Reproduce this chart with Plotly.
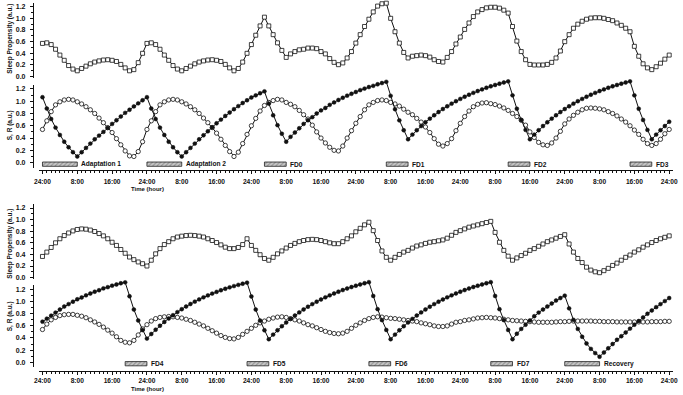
import plotly.graph_objects as go

hours = list(range(145))

# ---------------- top figure (adaptation + FD0-FD3) ----------------
top_sp = [0.57, 0.58, 0.55, 0.47, 0.37, 0.28, 0.19, 0.13, 0.10, 0.14, 0.18, 0.22, 0.25, 0.27, 0.285, 0.29, 0.28, 0.26, 0.21, 0.15, 0.10, 0.12, 0.24, 0.40, 0.57,
          0.58, 0.55, 0.47, 0.37, 0.28, 0.19, 0.13, 0.10, 0.14, 0.18, 0.22, 0.25, 0.27, 0.285, 0.29, 0.28, 0.26, 0.21, 0.15, 0.10, 0.14, 0.25, 0.40, 0.55,
          0.71, 0.87, 1.02, 0.87, 0.72, 0.58, 0.45, 0.33, 0.39, 0.43, 0.46, 0.47, 0.49, 0.49, 0.48, 0.43, 0.39, 0.31, 0.245, 0.205, 0.235, 0.32, 0.43, 0.575,
          0.72, 0.86, 0.985, 1.11, 1.21, 1.25, 1.26, 1.00, 0.77, 0.575, 0.415, 0.32, 0.35, 0.36, 0.37, 0.36, 0.335, 0.29, 0.26, 0.25, 0.33, 0.43, 0.56, 0.68,
          0.81, 0.92, 1.03, 1.11, 1.15, 1.18, 1.19, 1.19, 1.175, 1.14, 1.09, 0.86, 0.61, 0.43, 0.29, 0.21, 0.20, 0.20, 0.20, 0.21, 0.245, 0.32, 0.44, 0.60,
          0.72, 0.83, 0.90, 0.95, 0.985, 1.005, 1.01, 1.01, 1.00, 0.98, 0.96, 0.92, 0.88, 0.83, 0.77, 0.52, 0.35, 0.22, 0.15, 0.12, 0.17, 0.23, 0.30, 0.37]

top_s = [1.065, 0.88, 0.71, 0.57, 0.45, 0.34, 0.25, 0.17, 0.10,
         0.17, 0.24, 0.31, 0.38, 0.44, 0.50, 0.565, 0.63, 0.69, 0.75, 0.81, 0.86, 0.915, 0.965, 1.015, 1.065,
         0.88, 0.71, 0.57, 0.45, 0.34, 0.25, 0.17, 0.10,
         0.17, 0.24, 0.31, 0.38, 0.445, 0.51, 0.575, 0.64, 0.70, 0.76, 0.815, 0.87, 0.92, 0.97, 1.015, 1.06, 1.095, 1.13, 1.16,
         0.96, 0.77, 0.61, 0.47, 0.34,
         0.42, 0.49, 0.56, 0.63, 0.69, 0.74, 0.80, 0.85, 0.89, 0.94, 0.98, 1.02, 1.055, 1.09, 1.12, 1.15, 1.18, 1.205, 1.23, 1.25, 1.275, 1.295, 1.315,
         1.087, 0.87, 0.688, 0.528, 0.38,
         0.456, 0.528, 0.595, 0.657, 0.716, 0.771, 0.823, 0.872, 0.917, 0.96, 1.0, 1.037, 1.072, 1.105, 1.136, 1.165, 1.192, 1.218, 1.242, 1.264, 1.285, 1.305, 1.323,
         1.095, 0.877, 0.695, 0.533, 0.38,
         0.456, 0.528, 0.595, 0.657, 0.716, 0.771, 0.823, 0.872, 0.917, 0.96, 1.0, 1.037, 1.072, 1.105, 1.136, 1.165, 1.192, 1.218, 1.242, 1.264, 1.285, 1.305, 1.323,
         1.095, 0.877, 0.695, 0.533, 0.38,
         0.456, 0.528, 0.595, 0.665]

top_r = [0.54, 0.68, 0.83, 0.94, 0.99, 1.02, 1.03, 1.02, 0.99, 0.955, 0.91, 0.86, 0.80, 0.725, 0.65, 0.57, 0.49, 0.39, 0.29, 0.19, 0.11, 0.10, 0.18, 0.34, 0.54,
         0.68, 0.83, 0.94, 0.99, 1.02, 1.03, 1.02, 0.99, 0.955, 0.91, 0.86, 0.80, 0.725, 0.65, 0.57, 0.48, 0.38, 0.28, 0.18, 0.10, 0.17, 0.31, 0.46, 0.60,
         0.72, 0.84, 0.93, 0.98, 1.01, 1.03, 1.02, 0.98, 0.95, 0.91, 0.85, 0.78, 0.71, 0.61, 0.50, 0.40, 0.32, 0.25, 0.20, 0.19, 0.27, 0.40, 0.52, 0.64,
         0.75, 0.86, 0.94, 0.98, 1.01, 1.02, 1.01, 0.98, 0.955, 0.92, 0.87, 0.82, 0.78, 0.72, 0.66, 0.58, 0.49, 0.39, 0.30, 0.27, 0.31, 0.39, 0.52, 0.64,
         0.75, 0.84, 0.91, 0.95, 0.97, 0.975, 0.96, 0.945, 0.92, 0.89, 0.85, 0.80, 0.75, 0.69, 0.61, 0.50, 0.41, 0.33, 0.29, 0.28, 0.32, 0.40, 0.51, 0.63,
         0.71, 0.77, 0.82, 0.86, 0.885, 0.89, 0.885, 0.875, 0.86, 0.83, 0.80, 0.76, 0.71, 0.66, 0.60, 0.53, 0.46, 0.38, 0.31, 0.28, 0.31, 0.38, 0.47, 0.54]

top_sleep_start = [0, 24, 51, 79, 107, 135]
top_sleep_end = [8, 32, 56, 84, 112, 140]
top_sleep_label = ["Adaptation 1", "Adaptation 2", "FD0", "FD1", "FD2", "FD3"]

# ---------------- bottom figure (FD4-FD7 + recovery) ----------------
bot_sp = [0.365, 0.44, 0.52, 0.60, 0.67, 0.725, 0.77, 0.805, 0.83, 0.84, 0.835, 0.82, 0.795, 0.76, 0.72, 0.67, 0.61, 0.555, 0.485, 0.42, 0.355, 0.31, 0.27, 0.24, 0.20,
          0.30, 0.41, 0.50, 0.57, 0.62, 0.67, 0.70, 0.715, 0.725, 0.73, 0.725, 0.715, 0.70, 0.67, 0.64, 0.605, 0.565, 0.525, 0.50, 0.50, 0.52, 0.57, 0.67, 0.555,
          0.47, 0.395, 0.33, 0.30, 0.35, 0.41, 0.46, 0.51, 0.555, 0.59, 0.62, 0.64, 0.655, 0.66, 0.655, 0.64, 0.62, 0.60, 0.585, 0.585, 0.62, 0.67, 0.72, 0.79,
          0.85, 0.91, 0.955, 0.81, 0.64, 0.46, 0.35, 0.30, 0.35, 0.40, 0.44, 0.47, 0.51, 0.545, 0.565, 0.59, 0.61, 0.62, 0.635, 0.65, 0.68, 0.73, 0.78, 0.81,
          0.84, 0.87, 0.89, 0.91, 0.93, 0.95, 0.97, 0.78, 0.61, 0.47, 0.37, 0.30, 0.34, 0.38, 0.42, 0.47, 0.50, 0.54, 0.58, 0.62, 0.65, 0.68, 0.71, 0.74,
          0.58, 0.44, 0.33, 0.26, 0.18, 0.13, 0.10, 0.085, 0.12, 0.16, 0.21, 0.25, 0.30, 0.35, 0.39, 0.44, 0.48, 0.525, 0.565, 0.605, 0.64, 0.67, 0.695, 0.72]

bot_s = [0.67, 0.72, 0.77, 0.82, 0.87, 0.92, 0.96, 1.00, 1.04, 1.07, 1.105, 1.135, 1.165, 1.19, 1.22, 1.24, 1.265, 1.285, 1.305, 1.32,
         1.09, 0.87, 0.69, 0.53, 0.39,
         0.466, 0.537, 0.603, 0.665, 0.723, 0.777, 0.828, 0.876, 0.92, 0.962, 1.001, 1.038, 1.072, 1.104, 1.134, 1.162, 1.189, 1.213, 1.237, 1.258, 1.278, 1.297, 1.315,
         1.087, 0.87, 0.688, 0.528, 0.38,
         0.456, 0.528, 0.595, 0.657, 0.716, 0.771, 0.823, 0.872, 0.917, 0.96, 1.0, 1.037, 1.072, 1.105, 1.136, 1.165, 1.192, 1.218, 1.242, 1.264, 1.285, 1.305, 1.323,
         1.095, 0.877, 0.695, 0.533, 0.38,
         0.456, 0.528, 0.595, 0.657, 0.716, 0.771, 0.823, 0.872, 0.917, 0.96, 1.0, 1.037, 1.072, 1.105, 1.136, 1.165, 1.192, 1.218, 1.242, 1.264, 1.285, 1.305, 1.323,
         1.095, 0.877, 0.695, 0.533, 0.38,
         0.47, 0.55, 0.62, 0.69, 0.76, 0.82, 0.87, 0.92, 0.97, 1.02, 1.06, 1.10,
         0.89, 0.70, 0.55, 0.42, 0.31, 0.22, 0.15, 0.09,
         0.16, 0.23, 0.30, 0.37, 0.43, 0.49, 0.555, 0.62, 0.68, 0.74, 0.80, 0.855, 0.91, 0.96, 1.01, 1.06]

bot_r = [0.54, 0.63, 0.70, 0.74, 0.77, 0.785, 0.79, 0.79, 0.775, 0.76, 0.735, 0.70, 0.665, 0.625, 0.58, 0.53, 0.48, 0.42, 0.36, 0.33, 0.32, 0.36, 0.45, 0.55, 0.62,
         0.68, 0.72, 0.74, 0.75, 0.755, 0.75, 0.74, 0.73, 0.71, 0.69, 0.66, 0.63, 0.60, 0.56, 0.52, 0.48, 0.44, 0.41, 0.39, 0.385, 0.41, 0.46, 0.51, 0.56,
         0.61, 0.65, 0.68, 0.71, 0.73, 0.745, 0.75, 0.74, 0.72, 0.70, 0.68, 0.65, 0.62, 0.60, 0.57, 0.54, 0.51, 0.49, 0.475, 0.47, 0.48, 0.51, 0.56, 0.61,
         0.65, 0.69, 0.72, 0.74, 0.75, 0.745, 0.735, 0.725, 0.72, 0.71, 0.70, 0.69, 0.68, 0.67, 0.65, 0.635, 0.62, 0.60, 0.59, 0.59, 0.60, 0.63, 0.66, 0.67,
         0.69, 0.70, 0.715, 0.73, 0.735, 0.74, 0.735, 0.73, 0.72, 0.71, 0.70, 0.69, 0.685, 0.68, 0.675, 0.67, 0.665, 0.66, 0.66, 0.66, 0.66, 0.665, 0.67, 0.67,
         0.675, 0.68, 0.68, 0.68, 0.68, 0.68, 0.675, 0.675, 0.67, 0.67, 0.67, 0.665, 0.665, 0.665, 0.665, 0.665, 0.665, 0.665, 0.665, 0.67, 0.67, 0.67, 0.675, 0.675]

bot_sleep_start = [19, 47, 75, 103, 120]
bot_sleep_end = [24, 52, 80, 108, 128]
bot_sleep_label = ["FD4", "FD5", "FD6", "FD7", "Recovery"]

tick_hours = [0, 8, 16, 24, 32, 40, 48, 56, 64, 72, 80, 88, 96, 104, 112, 120, 128, 136, 144]
tick_text = ["24:00", "8:00", "16:00", "24:00", "8:00", "16:00", "24:00", "8:00", "16:00", "24:00",
             "8:00", "16:00", "24:00", "8:00", "16:00", "24:00", "8:00", "16:00", "24:00"]
y_ticks = [0.0, 0.2, 0.4, 0.6, 0.8, 1.0, 1.2]
y_text = ["0.0", "0.2", "0.4", "0.6", "0.8", "1.0", "1.2"]

for arr in (top_sp, top_s, top_r, bot_sp, bot_s, bot_r):
    assert len(arr) == len(hours), len(arr)

FONT = "Liberation Sans, Arial, sans-serif"
INK = "#111111"
W, H = 683, 395

fig = go.Figure()


def add_series(xa, ya_sp, ya_sr, ya_data, sp, s, r, starts, ends, labels):
    fig.add_trace(go.Bar(orientation="h", base=starts,
                         x=[e - st for st, e in zip(starts, ends)],
                         y=[-0.025] * len(starts), width=0.07,
                         xaxis=xa, yaxis=ya_sr, cliponaxis=False,
                         marker=dict(color="#c8c8c8", line=dict(color="#222222", width=0.8),
                                     pattern=dict(shape="/", fgcolor="#555555", size=3, solidity=0.35)),
                         showlegend=False, hoverinfo="skip"))
    fig.add_trace(go.Scatter(x=hours, y=sp, xaxis=xa, yaxis=ya_sp, mode="lines+markers",
                             line=dict(color=INK, width=1.0), cliponaxis=False,
                             marker=dict(symbol="square", size=4.0, color="white",
                                         line=dict(color=INK, width=0.8)),
                             showlegend=False, hoverinfo="skip"))
    fig.add_trace(go.Scatter(x=hours, y=r, xaxis=xa, yaxis=ya_data, mode="lines+markers",
                             line=dict(color=INK, width=1.0), cliponaxis=False,
                             marker=dict(symbol="circle", size=4.3, color="white",
                                         line=dict(color=INK, width=0.8)),
                             showlegend=False, hoverinfo="skip"))
    fig.add_trace(go.Scatter(x=hours, y=s, xaxis=xa, yaxis=ya_data, mode="lines+markers",
                             line=dict(color=INK, width=1.0), cliponaxis=False,
                             marker=dict(symbol="circle", size=3.9, color=INK,
                                         line=dict(color=INK, width=0.5)),
                             showlegend=False, hoverinfo="skip"))
    for e, lab in zip(ends, labels):
        fig.add_annotation(x=e, y=-0.025, xref=xa, yref=ya_sr, text="<b>" + lab + "</b>",
                           showarrow=False, xanchor="left", yanchor="middle", xshift=2,
                           font=dict(family=FONT, size=6.6, color=INK))


add_series("x", "y", "y2", "y5", top_sp, top_s, top_r, top_sleep_start, top_sleep_end, top_sleep_label)
add_series("x2", "y3", "y4", "y6", bot_sp, bot_s, bot_r, bot_sleep_start, bot_sleep_end, bot_sleep_label)

x_dom = [34.5 / W, 677.6 / W]
xrange = [-0.8, 144.8]


def xaxis_cfg(pos_px, standoff):
    return dict(domain=x_dom, range=xrange, anchor="free", position=1 - pos_px / H,
                showline=True, linecolor=INK, linewidth=1, showgrid=False, zeroline=False,
                tickmode="array", tickvals=tick_hours, ticktext=tick_text,
                ticks="outside", ticklen=3, tickwidth=0.8, tickcolor=INK,
                ticklabelstandoff=standoff,
                tickfont=dict(family=FONT, size=6.6, color=INK, weight="bold"),
                minor=dict(ticks="outside", ticklen=2, tickwidth=0.7, tickcolor=INK, dtick=1, tick0=0))


def yaxis_cfg(dom_px, rng):
    return dict(domain=[1 - dom_px[1] / H, 1 - dom_px[0] / H], range=rng, anchor="free",
                position=28.3 / W, showline=True, linecolor=INK, linewidth=1,
                showgrid=False, zeroline=False, tickmode="array", tickvals=y_ticks, ticktext=y_text,
                ticks="outside", ticklen=3, tickwidth=0.8, tickcolor=INK, ticklabelstandoff=3,
                tickfont=dict(family=FONT, size=7, color=INK, weight="bold"),
                minor=dict(ticks="outside", ticklen=2, tickwidth=0.7, tickcolor=INK, dtick=0.1, tick0=0))


def data_axis(dom_px, rng):
    # invisible axis with the same value-to-pixel scale, taller so curves may rise above 1.2
    return dict(domain=[1 - dom_px[1] / H, 1 - dom_px[0] / H], range=rng, anchor="free",
                position=28.3 / W, visible=False, showgrid=False, zeroline=False)


fig.update_layout(
    width=W, height=H, margin=dict(l=0, r=0, t=0, b=0),
    paper_bgcolor="white", plot_bgcolor="rgba(0,0,0,0)", showlegend=False,
    xaxis=xaxis_cfg(171, 2),
    xaxis2=xaxis_cfg(373.3, 0),
    yaxis=yaxis_cfg([2.6, 78.2], [-0.02, 1.27]),
    yaxis2=yaxis_cfg([85.0, 168.4], [-0.08, 1.27]),
    yaxis3=yaxis_cfg([205.0, 280.2], [-0.02, 1.27]),
    yaxis4=yaxis_cfg([286.8, 368.9], [-0.08, 1.27]),
    yaxis5=data_axis([77.0, 168.4], [-0.08, 1.40]),
    yaxis6=data_axis([278.9, 368.9], [-0.08, 1.40]),
)

titles = [("Sleep Propensity (a.u.)", 39), ("S, R (a.u.)", 126),
          ("Sleep Propensity (a.u.)", 245), ("S, R (a.u.)", 318)]
for txt, ypx in titles:
    fig.add_annotation(x=5 / W, y=1 - ypx / H, xref="paper", yref="paper", text="<b>" + txt + "</b>",
                       textangle=-90, showarrow=False, xanchor="center", yanchor="middle",
                       font=dict(family=FONT, size=6.5, color=INK))

for ypx in (189.5, 391.0):
    fig.add_annotation(x=145 / W, y=1 - ypx / H, xref="paper", yref="paper", text="<b>Time (hour)</b>",
                       showarrow=False, xanchor="center", yanchor="middle",
                       font=dict(family=FONT, size=6.0, color=INK))

fig.write_html("out.html")
